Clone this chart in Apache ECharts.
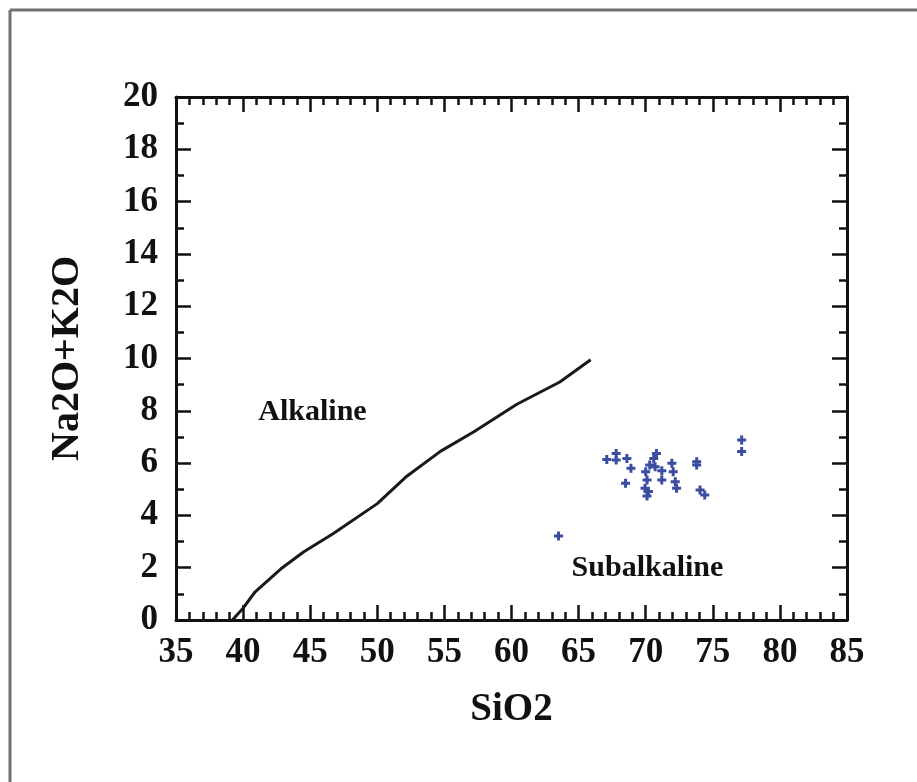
<!DOCTYPE html>
<html>
<head>
<meta charset="utf-8">
<script src="https://cdn.jsdelivr.net/npm/echarts@6/dist/echarts.min.js"></script>
<style>
  html, body { margin: 0; padding: 0; background: #fff; }
  #main { width: 917px; height: 782px; }
</style>
</head>
<body>
<div id="main"></div>
<script>
// boundary line Alkaline / Subalkaline (SiO2, Na2O+K2O)
var lineSiO2 = [39.2, 40.0, 40.9, 42.8, 44.5, 46.7, 50.0, 52.2, 54.7, 57.2, 60.4, 63.6, 65.9];
var lineAlk  = [0,    0.45, 1.08, 1.95, 2.6,  3.3,  4.45, 5.5,  6.45, 7.2,  8.25, 9.1,  9.95];

// samples
var sampleSiO2 = [77.15, 77.15, 67.1, 67.8, 67.8, 68.6, 68.9, 68.5, 70.8, 70.6, 70.3, 70.7, 70.0, 71.2,
                  70.1, 71.2, 69.95, 70.2, 70.1, 71.95, 72.05, 72.2, 72.3, 73.8, 73.8, 74.05, 74.4, 63.5];
var sampleAlk  = [6.88, 6.44, 6.14, 6.37, 6.12, 6.18, 5.8, 5.23, 6.37, 6.18, 5.93, 5.86, 5.67, 5.71,
                  5.35, 5.35, 5.04, 4.91, 4.74, 5.99, 5.67, 5.29, 5.04, 6.05, 5.93, 4.97, 4.78, 3.21];

// field names
var fieldNames = ['Alkaline', 'Subalkaline'];
var fieldSiO2 = [45.17, 70.13];
var fieldAlk = [7.95, 1.99];

var lineData = [];
for (var i = 0; i < lineSiO2.length; i++) {
    lineData.push([lineSiO2[i], lineAlk[i]]);
}
var sampleData = [];
for (var j = 0; j < sampleSiO2.length; j++) {
    sampleData.push([sampleSiO2[j], sampleAlk[j]]);
}
var fieldData = [];
for (var k = 0; k < fieldNames.length; k++) {
    fieldData.push([fieldSiO2[k], fieldAlk[k], fieldNames[k]]);
}

var serif = '"Liberation Serif", "DejaVu Serif", serif';
var axisLine = { show: true, onZero: false, lineStyle: { color: '#111', width: 3 } };

function makeX(pos, showLabel) {
    return {
        type: 'value', position: pos, min: 35, max: 85, interval: 5,
        axisLine: axisLine,
        axisTick: { show: true, inside: true, length: 15, lineStyle: { color: '#111', width: 2.5 } },
        minorTick: { show: true, splitNumber: 5, length: 8, lineStyle: { color: '#111', width: 2.5 } },
        splitLine: { show: false },
        axisLabel: { show: showLabel, color: '#111', fontFamily: serif, fontWeight: 'bold', fontSize: 35, margin: 15 }
    };
}
function makeY(pos, showLabel) {
    return {
        type: 'value', position: pos, min: 0, max: 20, interval: 2,
        axisLine: axisLine,
        axisTick: { show: true, inside: true, length: 15, lineStyle: { color: '#111', width: 2.5 } },
        minorTick: { show: true, splitNumber: 2, length: 8, lineStyle: { color: '#111', width: 2.5 } },
        splitLine: { show: false },
        axisLabel: { show: showLabel, color: '#111', fontFamily: serif, fontWeight: 'bold', fontSize: 35, margin: 18 }
    };
}

var xMain = makeX('bottom', true);
xMain.name = 'SiO2';
xMain.nameLocation = 'middle';
xMain.nameGap = 70;
xMain.nameTextStyle = { color: '#111', fontFamily: serif, fontWeight: 'bold', fontSize: 39 };
var yMain = makeY('left', true);
yMain.name = 'Na2O+K2O';
yMain.nameLocation = 'middle';
yMain.nameGap = 88;
yMain.nameTextStyle = { color: '#111', fontFamily: serif, fontWeight: 'bold', fontSize: 40 };

var myChart = echarts.init(document.getElementById('main'));
var option = {
    backgroundColor: '#fff',
    animation: false,
    grid: { left: 176, right: 70, top: 97, bottom: 162, containLabel: false },
    xAxis: [xMain, makeX('top', false)],
    yAxis: [yMain, makeY('right', false)],
    graphic: [
        { type: 'line', shape: { x1: 10, y1: 10, x2: 10, y2: 782 }, style: { stroke: '#707070', lineWidth: 3 } },
        { type: 'line', shape: { x1: 10, y1: 10, x2: 917, y2: 10 }, style: { stroke: '#707070', lineWidth: 3 } }
    ],
    series: [
        {
            name: 'boundary',
            type: 'line',
            data: lineData,
            showSymbol: false,
            symbol: 'none',
            lineStyle: { color: '#1a1a1a', width: 3 },
            z: 3
        },
        {
            name: 'samples',
            type: 'scatter',
            data: sampleData,
            symbol: 'path://M3,0H6V3H9V6H6V9H3V6H0V3H3Z',
            symbolSize: 9,
            itemStyle: { color: '#3a4d9f', opacity: 1 },
            z: 4
        },
        {
            name: 'fields',
            type: 'scatter',
            data: fieldData,
            symbolSize: 0,
            itemStyle: { color: '#111', opacity: 1 },
            label: {
                show: true,
                position: 'inside',
                formatter: function (p) { return p.value[2]; },
                color: '#111',
                opacity: 1,
                textBorderWidth: 0,
                fontFamily: serif,
                fontWeight: 'bold',
                fontSize: 30
            },
            z: 5
        }
    ]
};
myChart.setOption(option);
window.onresize = myChart.resize;
</script>
</body>
</html>
